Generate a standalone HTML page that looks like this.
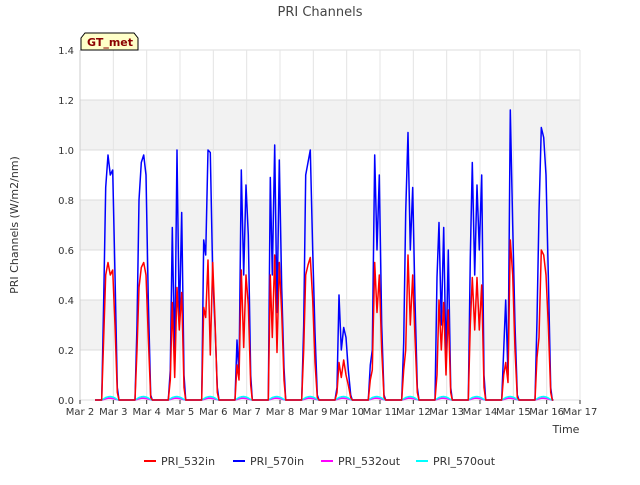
<!DOCTYPE html>
<html><head><meta charset="utf-8"><style>
body{margin:0;background:#fff;font-family:"Liberation Sans",sans-serif}
svg text{font-family:"DejaVu Sans","Liberation Sans",sans-serif}
</style></head><body>
<svg width="640" height="480">
<rect width="640" height="480" fill="#fff"/>
<text x="320" y="16" text-anchor="middle" font-size="13" fill="#444">PRI Channels</text>
<g id="grid"></g>
<g id="series"></g>
<g id="axes"></g>
<g>
<path d="M81,50 L81,38 L85,33 L134,33 L138,38 L138,50 Z" fill="#ffffc8" stroke="#000"/>
<text x="87" y="46" font-size="11" font-weight="bold" fill="#8b0000">GT_met</text>
</g>
<text x="566" y="433" text-anchor="middle" font-size="11" fill="#333">Time</text>
<text transform="translate(18,225) rotate(-90)" text-anchor="middle" font-size="11" fill="#333">PRI Channels (W/m2/nm)</text>
<g id="legend"></g>
</svg>
<script>
const xTicks=["Mar 2","Mar 3","Mar 4","Mar 5","Mar 6","Mar 7","Mar 8","Mar 9","Mar 10","Mar 11","Mar 12","Mar 13","Mar 14","Mar 15","Mar 16","Mar 17"];
const yTicks=[0,0.2,0.4,0.6,0.8,1.0,1.2,1.4];
const sampleOffsets=[0.65,0.71,0.77,0.84,0.91,0.98,1.05,1.12,1.17];
const in570=[
[0,0.4,0.85,0.98,0.9,0.92,0.5,0.05,0],
[0,0.3,0.8,0.95,0.98,0.9,0.4,0.02,0],
[0,0.12,0.69,0.15,1.0,0.3,0.75,0.1,0],
[0,0.64,0.58,1.0,0.99,0.5,0.3,0.05,0],
[0,0.24,0.1,0.92,0.5,0.86,0.66,0.1,0],
[0,0.89,0.5,1.02,0.35,0.96,0.45,0.13,0],
[0,0.3,0.9,0.95,1.0,0.6,0.27,0.02,0],
[0,0.05,0.42,0.2,0.29,0.25,0.12,0.02,0],
[0,0.14,0.2,0.98,0.6,0.9,0.3,0.02,0],
[0,0.23,0.75,1.07,0.6,0.85,0.4,0.05,0],
[0,0.49,0.71,0.3,0.69,0.15,0.6,0.05,0],
[0,0.57,0.95,0.5,0.86,0.6,0.9,0.1,0],
[0,0.2,0.4,0.1,1.16,0.7,0.3,0.02,0],
[0,0.32,0.75,1.09,1.05,0.9,0.5,0.05,0]];
const in532=[
[0,0.25,0.5,0.55,0.5,0.52,0.3,0.03,0],
[0,0.2,0.45,0.53,0.55,0.5,0.25,0.01,0],
[0,0.08,0.39,0.09,0.45,0.28,0.43,0.05,0],
[0,0.37,0.33,0.56,0.18,0.55,0.32,0.03,0],
[0,0.14,0.08,0.52,0.21,0.5,0.38,0.06,0],
[0,0.5,0.25,0.58,0.19,0.55,0.35,0.08,0],
[0,0.2,0.5,0.54,0.57,0.4,0.15,0.01,0],
[0,0.03,0.15,0.09,0.16,0.1,0.06,0.01,0],
[0,0.08,0.12,0.55,0.35,0.5,0.2,0.01,0],
[0,0.12,0.2,0.58,0.3,0.5,0.25,0.03,0],
[0,0.1,0.4,0.2,0.39,0.1,0.36,0.03,0],
[0,0.3,0.49,0.28,0.49,0.28,0.46,0.05,0],
[0,0.1,0.15,0.07,0.64,0.5,0.2,0.01,0],
[0,0.17,0.25,0.6,0.58,0.5,0.3,0.03,0]];
const out532=[0,0.002,0.005,0.007,0.007,0.006,0.004,0.001,0];
const out570=[0,0.005,0.01,0.013,0.014,0.012,0.008,0.002,0];
const NS="http://www.w3.org/2000/svg";
const X0=80,X1=580,Y0=400,Y1=50;
const xs=d=>X0+d*(X1-X0)/15;
const ys=v=>Y0-v*(Y0-Y1)/1.4;
function mk(tag,attrs,parent){const e=document.createElementNS(NS,tag);for(const k in attrs)e.setAttribute(k,attrs[k]);parent.appendChild(e);return e;}
const grid=document.getElementById('grid'),axes=document.getElementById('axes'),ser=document.getElementById('series'),leg=document.getElementById('legend');
mk('rect',{x:X0,y:Y1,width:X1-X0,height:Y0-Y1,fill:'#fff'},grid);
for(let i=0;i<yTicks.length-1;i+=2){
 const b=mk('rect',{x:X0,y:ys(yTicks[i+2]||1.4),width:X1-X0,height:ys(yTicks[i+1])-ys(yTicks[i+2]||1.4),fill:'#f2f2f2'},grid);
 
 
}
yTicks.forEach(v=>{
 mk('line',{x1:X0,x2:X1,y1:ys(v),y2:ys(v),stroke:'#dcdcdc'},grid);
 const t=mk('text',{x:X0-6,y:ys(v)+4,'text-anchor':'end','font-size':10,fill:'#333'},axes);
 t.textContent=v.toFixed(1);
 
 
});
xTicks.forEach((s,i)=>{
 mk('line',{x1:xs(i),x2:xs(i),y1:Y1,y2:Y0,stroke:'#e4e4e4'},grid);
 mk('line',{x1:xs(i),x2:xs(i),y1:Y0,y2:Y0+4,stroke:'#333'},axes);
 const t=mk('text',{x:xs(i),y:Y0+15,'text-anchor':'middle','font-size':10,fill:'#333'},axes);
 t.textContent=s;
 
 
});
mk('line',{x1:X0,x2:X0,y1:Y1,y2:Y0,stroke:'#ccc'},axes);
function path(daysVals,color,name,w){
 let d='M'+xs(0.45)+','+ys(0);
 for(let k=0;k<daysVals.length;k++){
  const vals=Array.isArray(daysVals[k])?daysVals[k]:daysVals;
  sampleOffsets.forEach((o,j)=>{d+=' L'+xs(k+o).toFixed(1)+','+ys(vals[j]).toFixed(1);});
 }
 d+=' L'+xs(14.2)+','+ys(0);
 const p=mk('path',{d:d,fill:'none',stroke:color,'stroke-width':w,'stroke-linejoin':'round'},ser);
 
 
}
const days=in570.length;
path(Array(days).fill(out532),'#ff00ff','series-pri-532out',1.5);
path(Array(days).fill(out570),'#00ffff','series-pri-570out',1.5);
path(in570,'#0000ff','series-pri-570in',1.5);
path(in532,'#ff0000','series-pri-532in',1.5);
const legItems=[["PRI_532in","#ff0000"],["PRI_570in","#0000ff"],["PRI_532out","#ff00ff"],["PRI_570out","#00ffff"]];
const lx=[144,233,321,416];
legItems.forEach((it,i)=>{
 const g=mk('g',{},leg);
 
 
 mk('line',{x1:lx[i],x2:lx[i]+12,y1:461,y2:461,stroke:it[1],'stroke-width':2},g);
 const t=mk('text',{x:lx[i]+17,y:465,'font-size':11,fill:'#333'},g);
 t.textContent=it[0];
});
</script>
</body></html>
